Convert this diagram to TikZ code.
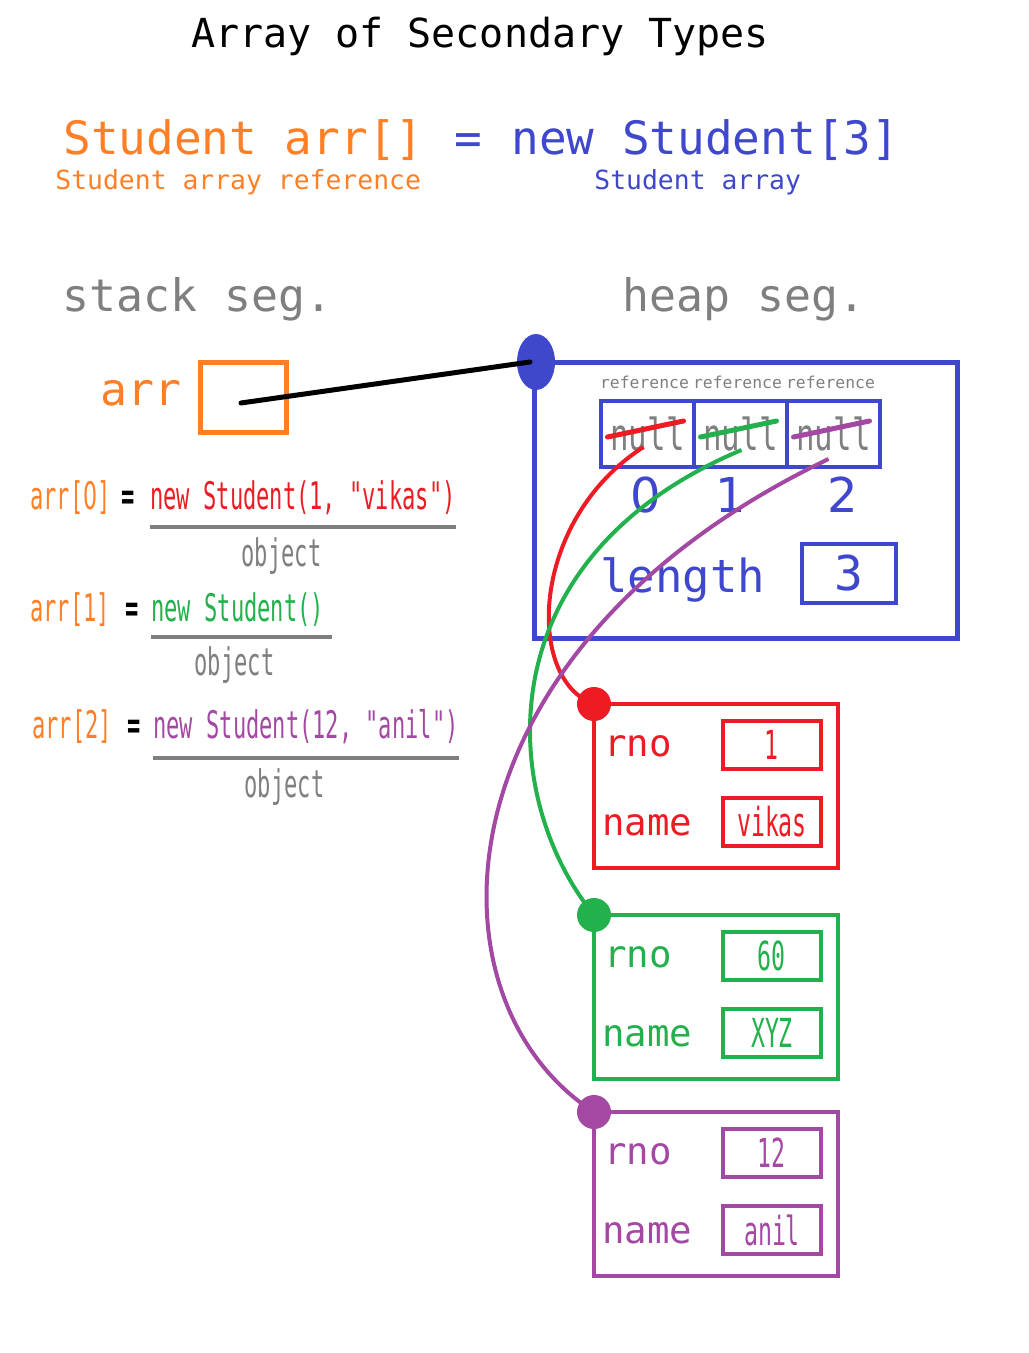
\documentclass[tikz,border=0pt]{standalone}
\usepackage{fontspec}
\setmonofont{DejaVu Sans Mono}
\newfontfamily\slimfont[FakeStretch=0.58]{DejaVu Sans Mono}
\newfontfamily\slimsans[FakeStretch=0.58]{DejaVu Sans}
\newfontfamily\plainsans{DejaVu Sans}
\newfontfamily\midfont[FakeStretch=0.7]{DejaVu Sans Mono}
\definecolor{codeorange}{HTML}{FF7F27}
\definecolor{heapblue}{HTML}{3F48CC}
\definecolor{objred}{HTML}{ED1C24}
\definecolor{objgreen}{HTML}{22B14C}
\definecolor{objpurple}{HTML}{A349A4}
\definecolor{textgray}{HTML}{7F7F7F}
\begin{document}
\begin{tikzpicture}[x=0.5pt, y=-0.5pt,
    every node/.style={inner sep=0pt},
    mono/.style={font={\ttfamily\fontsize{#1}{#1}\selectfont}},
    slim/.style={font={\slimfont\fontsize{#1}{#1}\selectfont}},
    cell/.style={draw=heapblue, line width=2pt, minimum width=46.5pt, minimum height=33pt,
        text=textgray, font={\midfont\fontsize{22}{22}\selectfont}},
    valbox/.style={draw=#1, text=#1, line width=2pt, minimum width=49pt, minimum height=24pt, slim=20},
    objline/.style={line width=2pt},
    strike/.style={line width=2.5pt, line cap=round},
    link/.style={line width=2pt},
    underline/.style={textgray, line width=2pt}]
    % Fondo y margenes
    \path[fill=white, use as bounding box] (0,0) rectangle (1028,1353);

    % Titulo y declaracion
    \node[mono=20, anchor=base] (title) at (480,48) {Array of Secondary Types};
    \node[mono=23, text=codeorange, anchor=base west] (decl) at (63,155) {Student arr[]};
    \node[mono=23, text=heapblue, anchor=base] (eqtop) at (468,155) {=};
    \node[mono=23, text=heapblue, anchor=base west] (alloc) at (511,155) {new Student[3]};
    \node[mono=13.2, text=codeorange, anchor=base west] (declnote) at (55,190) {Student array reference};
    \node[mono=13.2, text=heapblue, anchor=base west] (allocnote) at (594,190) {Student array};

    % Segmentos de memoria
    \node[mono=22.4, text=textgray, anchor=base west] (stacklbl) at (62,312) {stack seg.};
    \node[mono=22.4, text=textgray, anchor=base west] (heaplbl) at (622,312) {heap seg.};

    % Variable de referencia en la pila
    \node[mono=22.4, text=codeorange, anchor=base west] (arrlbl) at (100,405) {arr};
    \node[draw=codeorange, line width=2.5pt, minimum width=43pt, minimum height=35pt] (arrbox) at (243,397) {};

    % Arreglo en el heap
    \draw[heapblue, line width=2.5pt] (534,362) rectangle (957,638);
    \coordinate (heapdot) at (536,362);
    \fill[heapblue] (heapdot) ellipse [x radius=19, y radius=28];
    \draw[line width=2.5pt, line cap=round] ([shift={(-2,6)}]arrbox.center) -- ([shift={(-6,0)}]heapdot);

    \foreach \i/\c/\dx in {0/objred/-2, 1/objgreen/-10, 2/objpurple/9}{
        \node[cell] (cell\i) at (647.5+93*\i,434) {null};
        \node[mono=8.2, text=textgray, anchor=base] (ref\i) at ([shift={(-3,-11)}]cell\i.north) {reference};
        \node[font={\plainsans\fontsize{24}{24}\selectfont}, text=heapblue, anchor=base] (idx\i) at ([shift={(\dx,43)}]cell\i.south) {\i};
        \draw[strike, \c] ([shift={(-40,3)}]cell\i.center) -- ([shift={(36,-13)}]cell\i.center);
    }

    \node[mono=22.8, text=heapblue, anchor=base west] (lenlbl) at (600,592) {length};
    \node[draw=heapblue, line width=2pt, minimum width=47pt, minimum height=29.5pt, mono=24, text=heapblue] (lenbox) at (849,573.5) {3};

    % Creacion de objetos
    \node[slim=19, text=codeorange, anchor=base west] (arr0) at (30,509) {arr[{\slimsans 0}]};
    \node[slim=19, anchor=base west] (eq0) at (121,509) {\bfseries =};
    \node[slim=19, text=objred, anchor=base west] (new0) at (150,509) {new Student(1, "vikas")};
    \draw[underline] ([yshift=-9pt]new0.base west) -- ([yshift=-9pt]new0.base east);
    \node[slim=19, text=textgray, anchor=base] (objnote0) at (281.5,566) {object};

    \node[slim=19, text=codeorange, anchor=base west] (arr1) at (30,621) {arr[1]};
    \node[slim=19, anchor=base west] (eq1) at (125,621) {\bfseries =};
    \node[slim=19, text=objgreen, anchor=base west] (new1) at (151,621) {new Student()};
    \draw[underline] ([yshift=-8pt]new1.base west) -- ([shift={(8,0)},yshift=-8pt]new1.base east);
    \node[slim=19, text=textgray, anchor=base] (objnote1) at (234.5,675) {object};

    \node[slim=19, text=codeorange, anchor=base west] (arr2) at (32,738) {arr[2]};
    \node[slim=19, anchor=base west] (eq2) at (127,738) {\bfseries =};
    \node[slim=19, text=objpurple, anchor=base west] (new2) at (153,738) {new Student(12, "anil")};
    \draw[underline] ([yshift=-10pt]new2.base west) -- ([yshift=-10pt]new2.base east);
    \node[slim=19, text=textgray, anchor=base] (objnote2) at (284.5,797) {object};

    % Objetos Student en el heap
    \foreach \c/\t/\r/\n [count=\k from 0] in {objred/704/1/vikas, objgreen/915/60/XYZ, objpurple/1112/12/anil}{
        \draw[objline, \c] (594,\t) rectangle (838,\t+164);
        \node[mono=18.7, text=\c, anchor=base west] (rnolbl\k) at (604,\t+52) {rno};
        \node[mono=18.7, text=\c, anchor=base west] (namelbl\k) at (602,\t+131) {name};
        \node[valbox=\c] (rno\k) at (771.5,\t+41) {\r};
        \node[valbox=\c] (name\k) at (772,\t+118) {\n};
        \coordinate (dot\k) at (594,\t);
        \fill[\c] (dot\k) circle [radius=17];
    }

    % Referencias de cada celda
    \draw[link, objred] ([shift={(-4,13)}]cell0.center) .. controls (530,520) and (525,680) .. (dot0);
    \draw[link, objgreen] ([shift={(1,16)}]cell1.center) .. controls (480,560) and (500,800) .. (dot1);
    \draw[link, objpurple] ([shift={(-5,25)}]cell2.center) .. controls (430,650) and (420,1000) .. (dot2);
\end{tikzpicture}
\end{document}
